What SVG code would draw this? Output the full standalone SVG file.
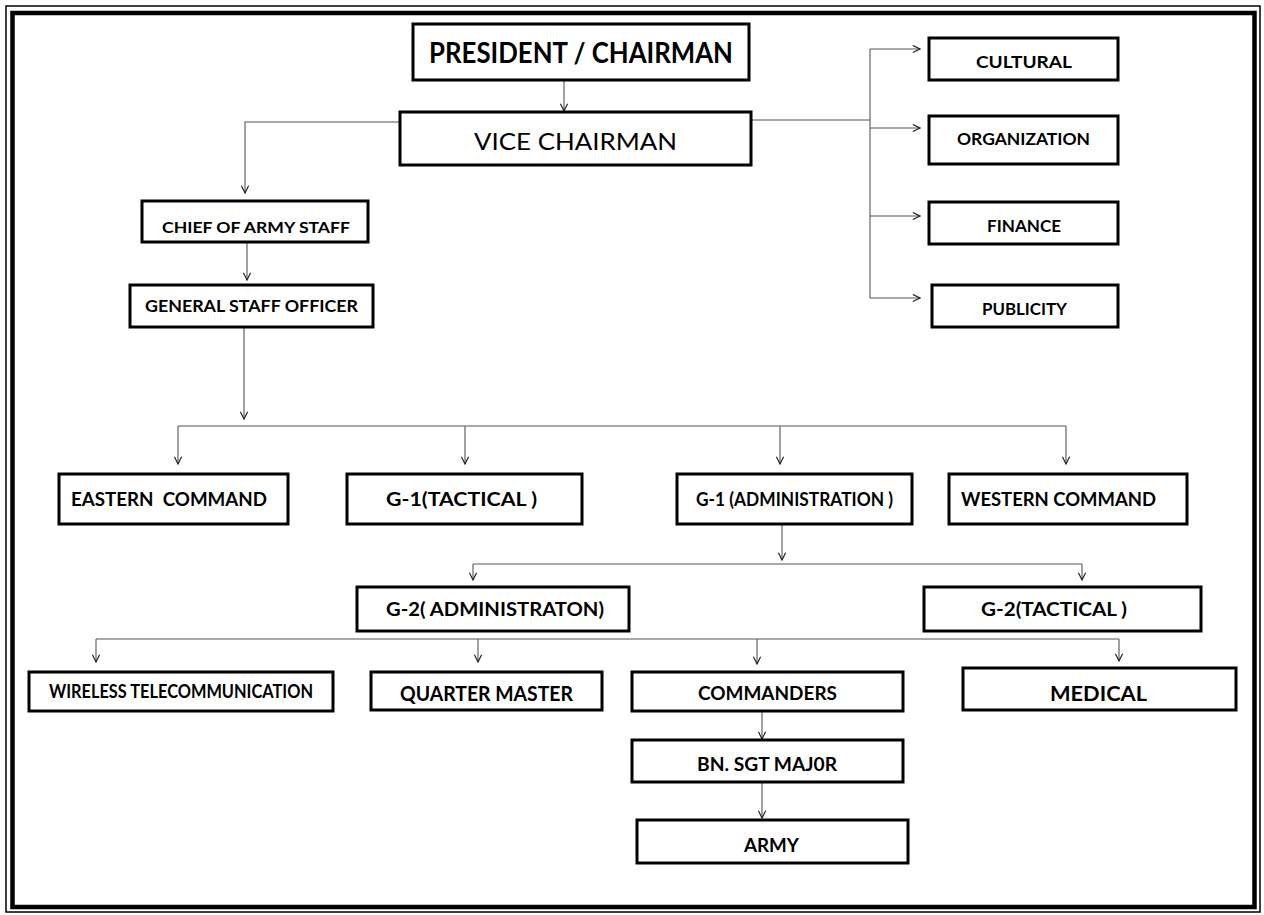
<svg xmlns="http://www.w3.org/2000/svg" width="1264" height="915" viewBox="0 0 1264 915">
<defs>
<marker id="ah" viewBox="0 0 10 10" refX="9" refY="5" markerWidth="9" markerHeight="9" markerUnits="userSpaceOnUse" orient="auto">
<path d="M1,1 L9,5 L1,9" fill="none" stroke="#222" stroke-width="1.3"/>
</marker>
<style>
.box{fill:#fff;stroke:#000;stroke-width:3}
.t{font-family:Lato,"Liberation Sans",sans-serif;font-weight:bold;fill:#000}
.c{fill:none;stroke:#555;stroke-width:1.1}
.a{marker-end:url(#ah)}
</style>
</defs>
<rect x="0" y="0" width="1264" height="915" fill="#fff"/>
<rect x="6" y="6" width="1254" height="906" fill="none" stroke="#000" stroke-width="1.5"/>
<rect x="12.5" y="13" width="1242" height="894" fill="none" stroke="#000" stroke-width="4.5"/>

<g id="connectors">
<path class="c a" d="M564,80 V111"/>
<path class="c a" d="M400,122 H245 V193"/>
<path class="c" d="M751,120 H870"/>
<path class="c" d="M870,49 V298"/>
<path class="c a" d="M870,49 H920"/>
<path class="c a" d="M870,128 H920"/>
<path class="c a" d="M870,216 H920"/>
<path class="c a" d="M870,298 H920"/>
<path class="c a" d="M247,242 V280"/>
<path class="c a" d="M244,327 V419"/>
<path class="c" d="M178,426 H1066"/>
<path class="c a" d="M178,426 V464"/>
<path class="c a" d="M465,426 V464"/>
<path class="c a" d="M780,426 V464"/>
<path class="c a" d="M1066,426 V464"/>
<path class="c a" d="M782,524 V560"/>
<path class="c" d="M473,564 H1082"/>
<path class="c a" d="M473,564 V580"/>
<path class="c a" d="M1082,564 V580"/>
<path class="c" d="M96,639 H1119"/>
<path class="c a" d="M96,639 V662"/>
<path class="c a" d="M478,639 V662"/>
<path class="c a" d="M757,639 V664"/>
<path class="c a" d="M1119,639 V661"/>
<path class="c a" d="M762,711 V739"/>
<path class="c a" d="M762,782 V818"/>
</g>

<g id="president"><rect class="box" x="413" y="24" width="336" height="56"/><text class="t" x="429" y="63" font-size="28" textLength="304" lengthAdjust="spacingAndGlyphs">PRESIDENT / CHAIRMAN</text></g>
<g id="vice"><rect class="box" x="400" y="112" width="351" height="53"/><text class="t" x="474" y="150" font-size="24" style="font-weight:normal" textLength="203" lengthAdjust="spacingAndGlyphs">VICE CHAIRMAN</text></g>
<g id="cultural"><rect class="box" x="929" y="38" width="189" height="42"/><text class="t" x="976" y="68" font-size="17" textLength="96" lengthAdjust="spacingAndGlyphs">CULTURAL</text></g>
<g id="organization"><rect class="box" x="929" y="116" width="189" height="48"/><text class="t" x="957" y="145" font-size="17" textLength="133" lengthAdjust="spacingAndGlyphs">ORGANIZATION</text></g>
<g id="finance"><rect class="box" x="929" y="202" width="189" height="42"/><text class="t" x="987" y="232" font-size="17" textLength="74" lengthAdjust="spacingAndGlyphs">FINANCE</text></g>
<g id="publicity"><rect class="box" x="932" y="285" width="186" height="42"/><text class="t" x="982" y="315" font-size="17" textLength="85" lengthAdjust="spacingAndGlyphs">PUBLICITY</text></g>
<g id="chief"><rect class="box" x="142" y="201" width="226" height="41"/><text class="t" x="162" y="233" font-size="16" textLength="188" lengthAdjust="spacingAndGlyphs">CHIEF OF ARMY STAFF</text></g>
<g id="gso"><rect class="box" x="130" y="285" width="243" height="42"/><text class="t" x="145" y="312" font-size="17" textLength="213" lengthAdjust="spacingAndGlyphs">GENERAL STAFF OFFICER</text></g>
<g id="eastern"><rect class="box" x="59" y="474" width="229" height="50"/><text class="t" x="71" y="506" font-size="18" textLength="196" lengthAdjust="spacingAndGlyphs" xml:space="preserve">EASTERN  COMMAND</text></g>
<g id="g1tactical"><rect class="box" x="347" y="474" width="235" height="50"/><text class="t" x="386" y="506" font-size="18" textLength="151" lengthAdjust="spacingAndGlyphs">G-1(TACTICAL )</text></g>
<g id="g1admin"><rect class="box" x="677" y="474" width="235" height="50"/><text class="t" x="696" y="506" font-size="18" textLength="197" lengthAdjust="spacingAndGlyphs">G-1 (ADMINISTRATION )</text></g>
<g id="western"><rect class="box" x="949" y="474" width="238" height="50"/><text class="t" x="961" y="506" font-size="18" textLength="195" lengthAdjust="spacingAndGlyphs">WESTERN COMMAND</text></g>
<g id="g2admin"><rect class="box" x="357" y="587" width="272" height="44"/><text class="t" x="386" y="616" font-size="18" textLength="218" lengthAdjust="spacingAndGlyphs">G-2( ADMINISTRATON)</text></g>
<g id="g2tactical"><rect class="box" x="924" y="587" width="277" height="44"/><text class="t" x="981" y="616" font-size="18" textLength="146" lengthAdjust="spacingAndGlyphs">G-2(TACTICAL )</text></g>
<g id="wireless"><rect class="box" x="29" y="672" width="304" height="39"/><text class="t" x="49" y="698" font-size="18" textLength="264" lengthAdjust="spacingAndGlyphs">WIRELESS TELECOMMUNICATION</text></g>
<g id="quartermaster"><rect class="box" x="371" y="672" width="231" height="38"/><text class="t" x="400" y="701" font-size="21" textLength="173" lengthAdjust="spacingAndGlyphs">QUARTER MASTER</text></g>
<g id="commanders"><rect class="box" x="632" y="672" width="271" height="39"/><text class="t" x="698" y="700" font-size="19" textLength="139" lengthAdjust="spacingAndGlyphs">COMMANDERS</text></g>
<g id="medical"><rect class="box" x="963" y="668" width="273" height="42"/><text class="t" x="1050" y="701" font-size="21" textLength="97" lengthAdjust="spacingAndGlyphs">MEDICAL</text></g>
<g id="bnsgt"><rect class="box" x="632" y="740" width="271" height="42"/><text class="t" x="697" y="771" font-size="18" textLength="140" lengthAdjust="spacingAndGlyphs">BN. SGT MAJ0R</text></g>
<g id="army"><rect class="box" x="637" y="820" width="271" height="43"/><text class="t" x="744" y="852" font-size="18" textLength="55" lengthAdjust="spacingAndGlyphs">ARMY</text></g>
</svg>
